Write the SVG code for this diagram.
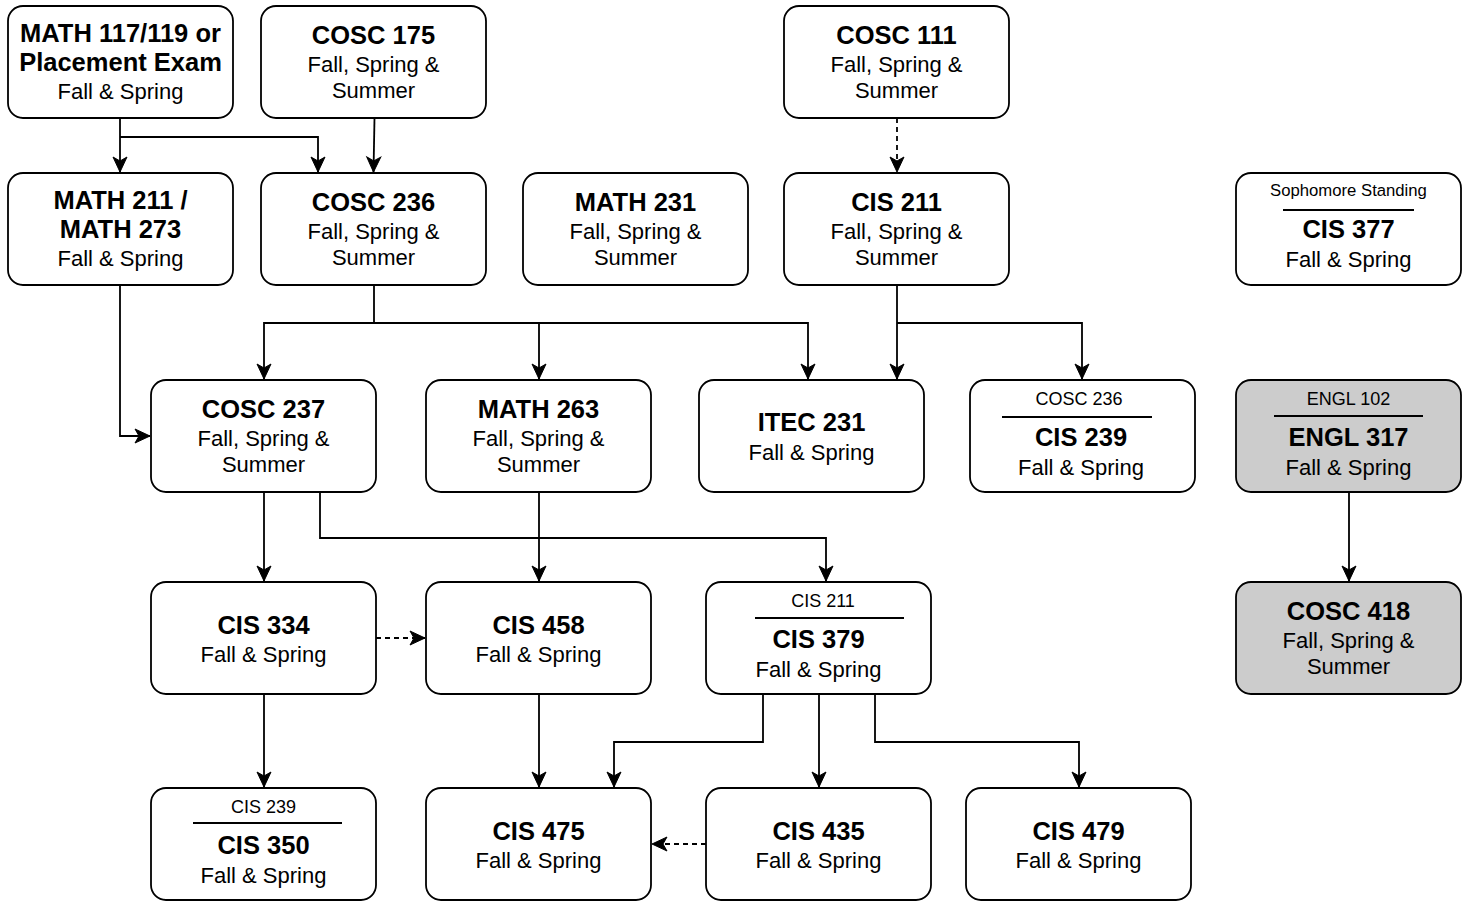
<svg xmlns="http://www.w3.org/2000/svg" width="1462" height="901" viewBox="0 0 1462 901">
<style>
.box{fill:#fff;stroke:#000;stroke-width:1.8}
.gray{fill:#ccc}
text{font-family:"Liberation Sans",Arial,sans-serif;text-anchor:middle;fill:#000}
.t{font-size:25.5px;font-weight:bold}
.s{font-size:22px}
.x{font-size:18px}
.xs{font-size:16.7px}
.sep{stroke:#000;stroke-width:1.8}
.e{fill:none;stroke:#000;stroke-width:1.8}
.d{stroke-dasharray:5 4}
</style>
<defs>
<marker id="a" markerUnits="userSpaceOnUse" markerWidth="18" markerHeight="18" viewBox="-2 -9 18 18" refX="15" refY="0" orient="auto">
<path d="M0,-7 L15,0 L0,7 L4,0 Z" fill="#000" stroke="#000" stroke-width="1"/>
</marker>
</defs>
<g id="connectors">
<path class="e" d="M120,118 V172" marker-end="url(#a)"/>
<path class="e" d="M120,137 H318 V172" marker-end="url(#a)"/>
<path class="e" d="M374.5,118 L373.5,172" marker-end="url(#a)"/>
<path class="e d" d="M897,118 V172" marker-end="url(#a)"/>
<path class="e" d="M120,285 V436 H150" marker-end="url(#a)"/>
<path class="e" d="M374,285 V323 H264 V379" marker-end="url(#a)"/>
<path class="e" d="M374,323 H539 V379" marker-end="url(#a)"/>
<path class="e" d="M539,323 H808 V379" marker-end="url(#a)"/>
<path class="e" d="M897,285 V379" marker-end="url(#a)"/>
<path class="e" d="M897,323 H1082 V379" marker-end="url(#a)"/>
<path class="e" d="M264,492 V581" marker-end="url(#a)"/>
<path class="e" d="M320,492 V538 H826 V581" marker-end="url(#a)"/>
<path class="e" d="M539,492 V581" marker-end="url(#a)"/>
<path class="e d" d="M376,638 H425" marker-end="url(#a)"/>
<path class="e" d="M264,694 V787" marker-end="url(#a)"/>
<path class="e" d="M539,694 V787" marker-end="url(#a)"/>
<path class="e" d="M763,694 V742 H614 V787" marker-end="url(#a)"/>
<path class="e" d="M819,694 V787" marker-end="url(#a)"/>
<path class="e" d="M875,694 V742 H1079 V787" marker-end="url(#a)"/>
<path class="e d" d="M706,844 H652" marker-end="url(#a)"/>
<path class="e" d="M1349,492 V581" marker-end="url(#a)"/>
</g>
<g id="math117">
<rect class="box" x="8" y="6" width="225" height="112" rx="15"/>
<text class="t" x="120.5" y="42">MATH 117/119 or</text>
<text class="t" x="120.5" y="71">Placement Exam</text>
<text class="s" x="120.5" y="99">Fall &amp; Spring</text>
</g>
<g id="cosc175">
<rect class="box" x="261" y="6" width="225" height="112" rx="15"/>
<text class="t" x="373.5" y="44">COSC 175</text>
<text class="s" x="373.5" y="72">Fall, Spring &amp;</text>
<text class="s" x="373.5" y="98">Summer</text>
</g>
<g id="cosc111">
<rect class="box" x="784" y="6" width="225" height="112" rx="15"/>
<text class="t" x="896.5" y="44">COSC 111</text>
<text class="s" x="896.5" y="72">Fall, Spring &amp;</text>
<text class="s" x="896.5" y="98">Summer</text>
</g>
<g id="math211">
<rect class="box" x="8" y="173" width="225" height="112" rx="15"/>
<text class="t" x="120.5" y="209">MATH 211 /</text>
<text class="t" x="120.5" y="238">MATH 273</text>
<text class="s" x="120.5" y="266">Fall &amp; Spring</text>
</g>
<g id="cosc236">
<rect class="box" x="261" y="173" width="225" height="112" rx="15"/>
<text class="t" x="373.5" y="211">COSC 236</text>
<text class="s" x="373.5" y="239">Fall, Spring &amp;</text>
<text class="s" x="373.5" y="265">Summer</text>
</g>
<g id="math231">
<rect class="box" x="523" y="173" width="225" height="112" rx="15"/>
<text class="t" x="635.5" y="211">MATH 231</text>
<text class="s" x="635.5" y="239">Fall, Spring &amp;</text>
<text class="s" x="635.5" y="265">Summer</text>
</g>
<g id="cis211">
<rect class="box" x="784" y="173" width="225" height="112" rx="15"/>
<text class="t" x="896.5" y="211">CIS 211</text>
<text class="s" x="896.5" y="239">Fall, Spring &amp;</text>
<text class="s" x="896.5" y="265">Summer</text>
</g>
<g id="cis377">
<rect class="box" x="1236" y="173" width="225" height="112" rx="15"/>
<text class="xs" x="1348.5" y="196">Sophomore Standing</text>
<line class="sep" x1="1283" y1="210" x2="1414" y2="210"/>
<text class="t" x="1348.5" y="238">CIS 377</text>
<text class="s" x="1348.5" y="267">Fall &amp; Spring</text>
</g>
<g id="cosc237">
<rect class="box" x="151" y="380" width="225" height="112" rx="15"/>
<text class="t" x="263.5" y="418">COSC 237</text>
<text class="s" x="263.5" y="446">Fall, Spring &amp;</text>
<text class="s" x="263.5" y="472">Summer</text>
</g>
<g id="math263">
<rect class="box" x="426" y="380" width="225" height="112" rx="15"/>
<text class="t" x="538.5" y="418">MATH 263</text>
<text class="s" x="538.5" y="446">Fall, Spring &amp;</text>
<text class="s" x="538.5" y="472">Summer</text>
</g>
<g id="itec231">
<rect class="box" x="699" y="380" width="225" height="112" rx="15"/>
<text class="t" x="811.5" y="431">ITEC 231</text>
<text class="s" x="811.5" y="460">Fall &amp; Spring</text>
</g>
<g id="cis239">
<rect class="box" x="970" y="380" width="225" height="112" rx="15"/>
<text class="x" x="1079" y="405">COSC 236</text>
<line class="sep" x1="1002" y1="417" x2="1152" y2="417"/>
<text class="t" x="1081" y="446">CIS 239</text>
<text class="s" x="1081" y="475">Fall &amp; Spring</text>
</g>
<g id="engl317">
<rect class="box gray" x="1236" y="380" width="225" height="112" rx="15"/>
<text class="x" x="1348.5" y="405">ENGL 102</text>
<line class="sep" x1="1274" y1="416" x2="1423" y2="416"/>
<text class="t" x="1348.5" y="446">ENGL 317</text>
<text class="s" x="1348.5" y="475">Fall &amp; Spring</text>
</g>
<g id="cis334">
<rect class="box" x="151" y="582" width="225" height="112" rx="15"/>
<text class="t" x="263.5" y="634">CIS 334</text>
<text class="s" x="263.5" y="662">Fall &amp; Spring</text>
</g>
<g id="cis458">
<rect class="box" x="426" y="582" width="225" height="112" rx="15"/>
<text class="t" x="538.5" y="634">CIS 458</text>
<text class="s" x="538.5" y="662">Fall &amp; Spring</text>
</g>
<g id="cis379">
<rect class="box" x="706" y="582" width="225" height="112" rx="15"/>
<text class="x" x="823" y="607">CIS 211</text>
<line class="sep" x1="755" y1="618" x2="904" y2="618"/>
<text class="t" x="818.5" y="648">CIS 379</text>
<text class="s" x="818.5" y="677">Fall &amp; Spring</text>
</g>
<g id="cosc418">
<rect class="box gray" x="1236" y="582" width="225" height="112" rx="15"/>
<text class="t" x="1348.5" y="620">COSC 418</text>
<text class="s" x="1348.5" y="648">Fall, Spring &amp;</text>
<text class="s" x="1348.5" y="674">Summer</text>
</g>
<g id="cis350">
<rect class="box" x="151" y="788" width="225" height="112" rx="15"/>
<text class="x" x="263.5" y="813">CIS 239</text>
<line class="sep" x1="193" y1="823" x2="342" y2="823"/>
<text class="t" x="263.5" y="854">CIS 350</text>
<text class="s" x="263.5" y="883">Fall &amp; Spring</text>
</g>
<g id="cis475">
<rect class="box" x="426" y="788" width="225" height="112" rx="15"/>
<text class="t" x="538.5" y="840">CIS 475</text>
<text class="s" x="538.5" y="868">Fall &amp; Spring</text>
</g>
<g id="cis435">
<rect class="box" x="706" y="788" width="225" height="112" rx="15"/>
<text class="t" x="818.5" y="840">CIS 435</text>
<text class="s" x="818.5" y="868">Fall &amp; Spring</text>
</g>
<g id="cis479">
<rect class="box" x="966" y="788" width="225" height="112" rx="15"/>
<text class="t" x="1078.5" y="840">CIS 479</text>
<text class="s" x="1078.5" y="868">Fall &amp; Spring</text>
</g>
</svg>
